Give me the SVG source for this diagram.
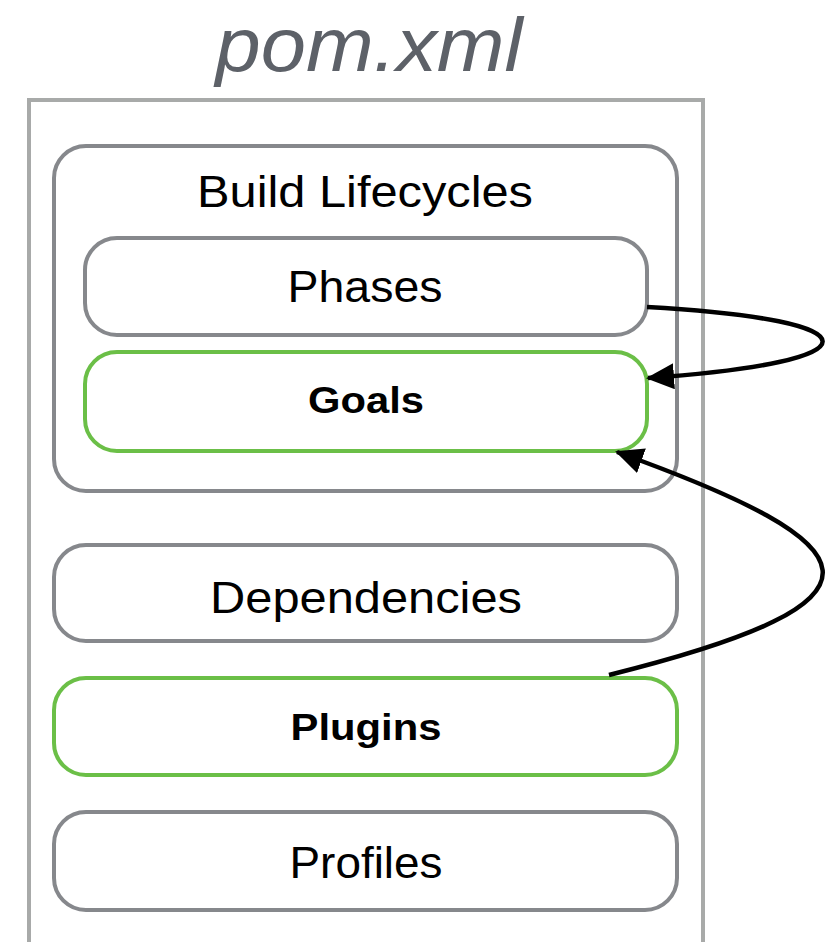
<svg xmlns="http://www.w3.org/2000/svg" width="826" height="942" viewBox="0 0 826 942">
<defs>
<style>
.box{fill:#fff;stroke:#86888c;stroke-width:4}
.grn{fill:#fff;stroke:#6bbf47;stroke-width:4}
.lbl{font-family:"Liberation Sans",Arial,sans-serif;font-size:44px;fill:#000;text-anchor:middle}
.bld{font-family:"Liberation Sans",Arial,sans-serif;font-size:36px;font-weight:bold;fill:#000;text-anchor:middle}
.conn{fill:none;stroke:#000;stroke-width:4.5}
</style>
<marker id="ah" viewBox="0 0 28 26" refX="26" refY="13" markerWidth="28" markerHeight="26" markerUnits="userSpaceOnUse" orient="auto">
<path d="M0,0 L28,13 L0,26 z" fill="#000"/>
</marker>
</defs>
<rect width="826" height="942" fill="#fff"/>
<text x="369" y="71" font-family="'Liberation Sans',Arial,sans-serif" font-style="italic" font-size="76" fill="#5d6168" text-anchor="middle" textLength="307" lengthAdjust="spacingAndGlyphs">pom.xml</text>
<g id="pom">
<path d="M29,942 L29,100 L703,100 L703,942" fill="none" stroke="#a8aaa9" stroke-width="4"/>
</g>
<g id="lifecycles">
<rect class="box" x="54" y="146" width="623" height="345" rx="32"/>
<text class="lbl" x="365" y="207" textLength="336" lengthAdjust="spacingAndGlyphs">Build Lifecycles</text>
</g>
<g id="phases">
<rect class="box" x="85" y="238" width="562" height="97" rx="32"/>
<text class="lbl" x="365" y="302" textLength="155" lengthAdjust="spacingAndGlyphs">Phases</text>
</g>
<g id="goals">
<rect class="grn" x="85" y="352" width="562" height="99" rx="32"/>
<text class="bld" x="366" y="413" textLength="116" lengthAdjust="spacingAndGlyphs">Goals</text>
</g>
<g id="dependencies">
<rect class="box" x="54" y="545" width="623" height="96" rx="32"/>
<text class="lbl" x="366" y="613" textLength="312" lengthAdjust="spacingAndGlyphs">Dependencies</text>
</g>
<g id="plugins">
<rect class="grn" x="54" y="678" width="623" height="97" rx="32"/>
<text class="bld" x="366" y="740" textLength="151" lengthAdjust="spacingAndGlyphs">Plugins</text>
</g>
<g id="profiles">
<rect class="box" x="54" y="812" width="623" height="98" rx="32"/>
<text class="lbl" x="366" y="878" textLength="153" lengthAdjust="spacingAndGlyphs">Profiles</text>
</g>
<g id="connectors">
<path class="conn" d="M647,307 C881,320 881,362 648,378" marker-end="url(#ah)"/>
<path class="conn" d="M609,675 C910,600 875,545 617,452" marker-end="url(#ah)"/>
</g>
</svg>
